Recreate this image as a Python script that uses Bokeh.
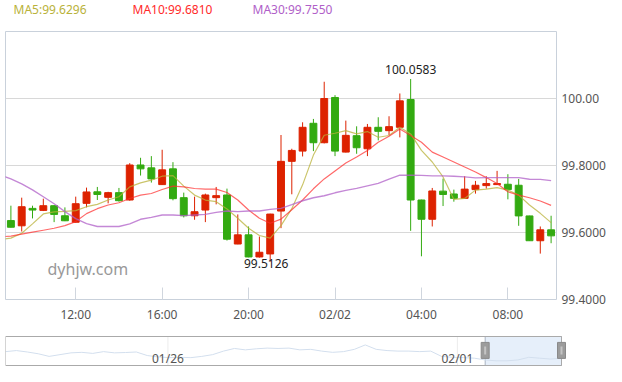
from bokeh.plotting import figure
from bokeh.layouts import column
from bokeh.models import FixedTicker, Label, Range1d, CustomJSTickFormatter
from bokeh.embed import file_html
from bokeh.resources import INLINE
from bokeh.core.properties import value

# ---------------- data ----------------
times = ["09:00", "09:30", "10:00", "10:30", "11:00", "11:30", "12:00", "12:30", "13:00", "13:30",
         "14:00", "14:30", "15:00", "15:30", "16:00", "16:30", "17:00", "17:30", "18:00", "18:30",
         "19:00", "19:30", "20:00", "20:30", "21:00", "21:30", "22:00", "22:30", "23:00", "23:30",
         "00:00", "00:30", "01:00", "01:30", "02:00", "02:30", "03:00", "03:30", "04:00", "04:30",
         "05:00", "05:30", "06:00", "06:30", "07:00", "07:30", "08:00", "08:30", "09:00", "09:30",
         "10:00"]

opens = [99.6356, 99.6200, 99.6720, 99.6660, 99.6800, 99.6500, 99.6306, 99.6870, 99.7215, 99.7050,
         99.7190, 99.6970, 99.8015, 99.7930, 99.7430, 99.7900, 99.7040, 99.6500, 99.6670, 99.7040,
         99.7120, 99.5656, 99.5930, 99.5270, 99.5360, 99.6640, 99.8124, 99.8430, 99.9260, 99.8680,
         100.0030, 99.8400, 99.8890, 99.8500, 99.9140, 99.9040, 99.9140, 99.9970, 99.6970, 99.6395,
         99.7235, 99.7150, 99.7020, 99.7280, 99.7400, 99.7430, 99.7440, 99.7410, 99.6495, 99.5754,
         99.6080]
highs = [99.6800, 99.7040, 99.6800, 99.7010, 99.6810, 99.6750, 99.7070, 99.7340, 99.7360, 99.7215,
         99.7330, 99.8070, 99.8230, 99.8280, 99.8470, 99.8100, 99.7190, 99.7070, 99.7160, 99.7360,
         99.7310, 99.6540, 99.6180, 99.5880, 99.6560, 99.8910, 99.8500, 99.9290, 99.9390, 100.0500,
         100.0100, 99.9340, 99.9170, 99.9240, 99.9440, 99.9470, 100.0150, 100.0583, 99.6980, 99.7330,
         99.7610, 99.7280, 99.7680, 99.7540, 99.7680, 99.7840, 99.7740, 99.7600, 99.6500, 99.6180,
         99.6500]
lows = [99.6150, 99.6030, 99.6420, 99.6640, 99.6310, 99.6340, 99.6300, 99.6750, 99.6970, 99.6870,
        99.6920, 99.6950, 99.7700, 99.7490, 99.7420, 99.6960, 99.6450, 99.6380, 99.6310, 99.6840,
        99.5760, 99.5650, 99.5260, 99.5250, 99.5126, 99.6130, 99.7140, 99.8270, 99.8430, 99.8660,
        99.8280, 99.8390, 99.8350, 99.8280, 99.8750, 99.8910, 99.8840, 99.6050, 99.5290, 99.6180,
        99.6790, 99.6920, 99.7010, 99.7160, 99.7310, 99.7420, 99.6990, 99.6200, 99.5750, 99.5370,
        99.5680]
closes = [99.6157, 99.6770, 99.6670, 99.6800, 99.6540, 99.6350, 99.6860, 99.7210, 99.7135, 99.7190,
          99.6950, 99.8015, 99.7900, 99.7600, 99.7870, 99.7010, 99.6500, 99.6620, 99.7120, 99.7100,
          99.5800, 99.5930, 99.5270, 99.5410, 99.6550, 99.8124, 99.8450, 99.9140, 99.8680, 100.0000,
          99.8430, 99.8900, 99.8530, 99.9140, 99.9020, 99.9160, 99.9930, 99.6970, 99.6395, 99.7240,
          99.7135, 99.7020, 99.7295, 99.7410, 99.7460, 99.7460, 99.7280, 99.6495, 99.5754, 99.6080,
          99.5900]

# moving averages: first value belongs to the bar just before the visible window
ma5 = [99.5796,
       99.5831, 99.5979, 99.6258, 99.6554, 99.6613, 99.6631, 99.6652, 99.6770, 99.6839, 99.6969,
       99.7067, 99.7363, 99.7481, 99.7561, 99.7680, 99.7698, 99.7384, 99.7117, 99.6969, 99.6919,
       99.6702, 99.6424, 99.6127, 99.5911, 99.5831, 99.6207, 99.6711, 99.7422, 99.8311, 99.8904,
       99.8963, 99.9043, 99.8942, 99.9013, 99.8844, 99.8895, 99.9141, 99.8942, 99.8450, 99.8104,
       99.7659, 99.6987, 99.7016, 99.7265, 99.7295, 99.7342, 99.7265, 99.7117, 99.6821, 99.6572,
       99.6296]
ma10 = [99.5873,
        99.5890, 99.5950, 99.6009, 99.6068, 99.6127, 99.6207, 99.6326, 99.6563, 99.6711, 99.6821,
        99.6889, 99.7016, 99.7117, 99.7164, 99.7283, 99.7384, 99.7363, 99.7313, 99.7295, 99.7295,
        99.7194, 99.6969, 99.6673, 99.6424, 99.6276, 99.6400, 99.6681, 99.6969, 99.7304, 99.7600,
        99.7837, 99.8074, 99.8252, 99.8450, 99.8696, 99.8874, 99.9090, 99.8895, 99.8696, 99.8400,
        99.8252, 99.8104, 99.7956, 99.7807, 99.7639, 99.7461, 99.7215, 99.7117, 99.7037, 99.6939,
        99.6810]
ma30 = [99.7719,
        99.7600, 99.7452, 99.7274, 99.7067, 99.6859, 99.6622, 99.6415, 99.6267, 99.6178, 99.6178,
        99.6178, 99.6258, 99.6394, 99.6453, 99.6524, 99.6524, 99.6504, 99.6524, 99.6542, 99.6601,
        99.6643, 99.6622, 99.6643, 99.6643, 99.6690, 99.6720, 99.6830, 99.6948, 99.7037, 99.7096,
        99.7185, 99.7259, 99.7319, 99.7393, 99.7467, 99.7591, 99.7710, 99.7710, 99.7704, 99.7689,
        99.7689, 99.7680, 99.7659, 99.7630, 99.7639, 99.7639, 99.7639, 99.7639, 99.7591, 99.7585,
        99.7550]

tick_times = ["12:00", "16:00", "20:00", "00:00", "04:00", "08:00"]
tick_labels = ["12:00", "16:00", "20:00", "02/02", "04:00", "08:00"]
y_ticks = [99.4, 99.6, 99.8, 100.0]

# overview (data-zoom) series and its labels
overview = [100.125, 100.2, 100.1, 99.975, 99.7875, 99.9125, 100.0375, 100.075, 100.0, 100.125,
            100.0375, 100.0625, 100.1, 99.85, 99.75, 99.7, 99.725, 99.7, 99.7875, 99.9125,
            100.1625, 100.35, 100.25, 100.325, 100.375, 100.35, 100.375, 100.25, 100.2875, 100.1625,
            100.075, 100.125, 100.2875, 100.6, 100.2875, 100.2, 100.1625, 100.1625, 100.125, 100.1625,
            99.7875, 99.725, 99.7, 99.6625, 99.5375, 99.475, 99.475, 99.5375, 99.725, 99.6625,
            99.6, 99.6625]
overview_ticks = [14.9, 41.45]
overview_labels = ["01/26", "02/01"]
window_start = 44.0

# ---------------- styles ----------------
UP = "#dd2200"
DOWN = "#33aa11"
C_MA5 = "#b9b23a"
C_MA10 = "#ff2a2a"
C_MA30 = "#b060c8"
FONT = "Noto Sans"
W = 606

n = len(times)
xs = list(range(n))
xma = list(range(-1, n))
colors = [UP if c >= o else DOWN for o, c in zip(opens, closes)]
tops = [max(o, c) for o, c in zip(opens, closes)]
bots = [min(o, c) for o, c in zip(opens, closes)]

# ---------------- legend strip ----------------
leg = figure(frame_width=W, frame_height=31, min_border=0, x_range=Range1d(0, W), y_range=Range1d(31, 0),
             x_axis_type=None, y_axis_type=None, output_backend="svg", toolbar_location=None, tools="")
leg.outline_line_color = None
leg.xgrid.visible = False
leg.ygrid.visible = False
leg_names = ["MA5", "MA10", "MA30"]
leg_vals = [ma5[-1], ma10[-1], ma30[-1]]
leg_cols = [C_MA5, C_MA10, C_MA30]
leg.text(x=[8, 127, 247], y=[9, 9, 9], text=[f"{a}:{v:.4f}" for a, v in zip(leg_names, leg_vals)],
         text_color=leg_cols, text_font=value(FONT), text_font_size="12px",
         text_align="left", text_baseline="middle")

# ---------------- main chart ----------------
p = figure(frame_width=551, frame_height=268, min_border_top=0, min_border_bottom=34,
           min_border_left=5, min_border_right=0, y_axis_location="right",
           x_range=Range1d(-0.5, n - 0.5), y_range=Range1d(99.4, 100.2),
           output_backend="svg", toolbar_location=None, tools="")
p.background_fill_color = "white"
p.border_fill_color = "white"
p.outline_line_color = "#c9d1db"

p.segment(x0=xs, y0=lows, x1=xs, y1=highs, line_color=colors, line_width=1)
p.vbar(x=xs, width=0.64, top=tops, bottom=bots, fill_color=colors, line_color=colors, line_width=1)

p.line(xma, ma5, line_color=C_MA5, line_width=1.2, line_alpha=0.75)
p.line(xma, ma10, line_color=C_MA10, line_width=1.2, line_alpha=0.7)
p.line(xma, ma30, line_color=C_MA30, line_width=1.4, line_alpha=0.75)

tick_idx = [times.index(t) for t in tick_times]
p.xaxis.ticker = FixedTicker(ticks=tick_idx)
p.xaxis.major_label_overrides = {i: lab for i, lab in zip(tick_idx, tick_labels)}
p.xaxis.axis_line_color = None
p.xaxis.major_tick_in = 12
p.xaxis.major_tick_out = 0
p.xaxis.major_tick_line_color = "#d0d6de"
p.xaxis.minor_tick_line_color = None
p.xaxis.major_label_standoff = 6
p.xaxis.major_label_text_font = FONT
p.xaxis.major_label_text_font_size = "12px"
p.xaxis.major_label_text_color = "#555555"

p.yaxis.ticker = FixedTicker(ticks=y_ticks)
p.yaxis.formatter = CustomJSTickFormatter(code="return tick >= 99.995 ? tick.toFixed(2) : tick.toFixed(4);")
p.yaxis.axis_line_color = None
p.yaxis.major_tick_line_color = None
p.yaxis.major_tick_in = 0
p.yaxis.major_tick_out = 0
p.yaxis.minor_tick_line_color = None
p.yaxis.minor_tick_in = 0
p.yaxis.minor_tick_out = 0
p.yaxis.major_label_standoff = 5
p.yaxis.major_label_text_font = FONT
p.yaxis.major_label_text_font_size = "12px"
p.yaxis.major_label_text_color = "#555555"

p.xgrid.visible = False
p.ygrid.grid_line_color = "#d8d8d8"

# watermark
p.add_layout(Label(x=3.39, y=99.4925, text="dyhjw.com", text_color="#999999", text_font=FONT,
                   text_font_size="16px", text_baseline="middle", text_align="left"))

# max / min marks
imax = max(range(n), key=lambda i: highs[i])
imin = min(range(n), key=lambda i: lows[i])
p.add_layout(Label(x=imax, y=highs[imax], text=f"{highs[imax]:.4f}", text_color="#222222",
                   text_font=FONT, text_font_size="12px", text_align="center",
                   text_baseline="alphabetic", y_offset=9))
p.add_layout(Label(x=imin, y=lows[imin], text=f"{lows[imin]:.4f}", text_color="#222222",
                   text_font=FONT, text_font_size="12px", text_align="center",
                   text_baseline="top", y_offset=3, x_offset=-4))

# ---------------- data zoom strip ----------------
m = len(overview)
ox = list(range(m))
box_lo, box_hi = 99.144, 101.196
px = (box_hi - box_lo) / 29.0
z = figure(frame_width=601, frame_height=33, min_border_top=0, min_border_bottom=0,
           min_border_left=5, min_border_right=0,
           x_range=Range1d(0, (m - 1) * 601 / 556), y_range=Range1d(box_lo - px, box_hi + 3 * px),
           x_axis_type=None, y_axis_type=None,
           output_backend="svg", toolbar_location=None, tools="")
z.outline_line_color = None
z.background_fill_color = "white"
z.border_fill_color = "white"
z.xgrid.visible = False
z.ygrid.visible = False

for t in overview_ticks:
    z.segment(x0=[t], y0=[box_lo], x1=[t], y1=[box_hi], line_color="#ececec", line_width=1)
z.quad(left=[window_start], right=[m - 1], bottom=[box_lo], top=[box_hi],
       fill_color="#e3edf9", fill_alpha=0.9, line_color="#a9b4c2", line_width=1)
z.line(ox, overview, line_color="#d3dfee", line_width=1)
z.quad(left=[0], right=[m - 1], bottom=[box_lo], top=[box_hi],
       fill_color=None, line_color="#aaaaaa", line_width=1)
hy = box_hi - (box_hi - box_lo) * 0.48
z.rect(x=[window_start, m - 1], y=[hy, hy], width=8, height=16, width_units="screen",
       height_units="screen", fill_color="#9c9c9c", line_color="#8a8a8a")
z.rect(x=[window_start, m - 1], y=[hy, hy], width=2, height=8, width_units="screen",
       height_units="screen", fill_color="#c4c4c4", line_color=None)
z.text(x=overview_ticks, y=[box_hi - (box_hi - box_lo) * 0.745] * len(overview_ticks),
       text=overview_labels, text_font=value(FONT), text_font_size="12px", text_color="#555555",
       text_align="center", text_baseline="middle")

layout = column(leg, p, z)
open("out.html", "w").write(file_html(layout, INLINE))
